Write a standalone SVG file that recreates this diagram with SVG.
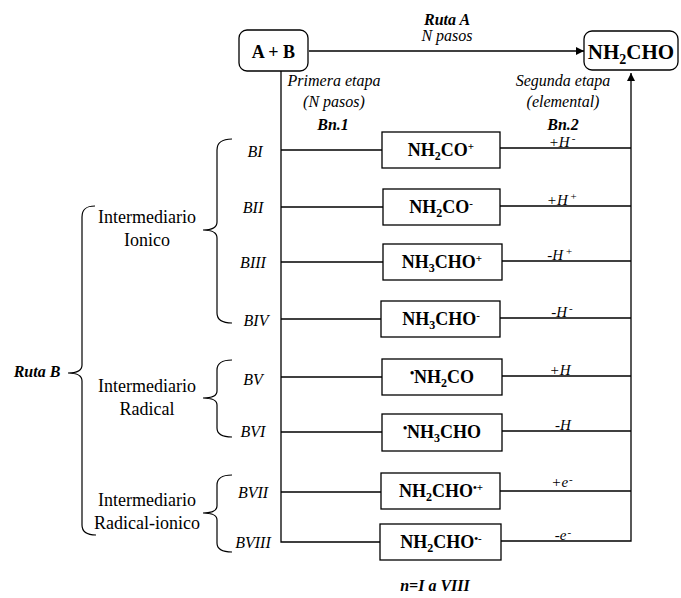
<svg xmlns="http://www.w3.org/2000/svg" width="681" height="598" viewBox="0 0 681 598">
<style>
text{font-family:"Liberation Serif","Times New Roman","DejaVu Serif",serif;fill:#000}
.it{font-style:italic}
.b{font-weight:bold}
.s16{font-size:16px}
.s15{font-size:15px}
.s18{font-size:18px}
.box{fill:#fff;stroke:#000;stroke-width:1.3}
.ln{fill:none;stroke:#000;stroke-width:1.3}
.br{fill:none;stroke:#000;stroke-width:1.2}
</style>
<defs>
<marker id="ah" viewBox="0 0 10 10" refX="10" refY="5" markerWidth="8" markerHeight="8" markerUnits="userSpaceOnUse" orient="auto">
<path d="M0,0 L10,5 L0,10 z" fill="#000"/>
</marker>
</defs>

<g id="connectors">
<line class="ln" x1="309" y1="51" x2="584" y2="51" marker-end="url(#ah)"/>
<polyline class="ln" points="281,71 281,542 380,542"/>
<polyline class="ln" points="501,541 631,541 631,73" marker-end="url(#ah)"/>
<line class="ln" x1="281" y1="150" x2="382" y2="150"/>
<line class="ln" x1="500" y1="148" x2="631" y2="148"/>
<line class="ln" x1="281" y1="207" x2="383" y2="207"/>
<line class="ln" x1="500" y1="206" x2="631" y2="206"/>
<line class="ln" x1="281" y1="262" x2="383" y2="262"/>
<line class="ln" x1="502" y1="261" x2="631" y2="261"/>
<line class="ln" x1="281" y1="319" x2="381" y2="319"/>
<line class="ln" x1="500" y1="318" x2="631" y2="318"/>
<line class="ln" x1="281" y1="377" x2="382" y2="377"/>
<line class="ln" x1="502" y1="376" x2="631" y2="376"/>
<line class="ln" x1="281" y1="432" x2="382" y2="432"/>
<line class="ln" x1="502" y1="431" x2="631" y2="431"/>
<line class="ln" x1="281" y1="492" x2="381" y2="492"/>
<line class="ln" x1="500" y1="491" x2="631" y2="491"/>
<text class="it b s16" x="447" y="25" text-anchor="middle">Ruta A</text>
<text class="it s16" x="447" y="41" text-anchor="middle">N pasos</text>
<text class="it s16" x="334" y="86" text-anchor="middle">Primera etapa</text>
<text class="it s16" x="334" y="107" text-anchor="middle">(N pasos)</text>
<text class="it b s16" x="333" y="130" text-anchor="middle">Bn.1</text>
<text class="it s16" x="563" y="86" text-anchor="middle">Segunda etapa</text>
<text class="it s16" x="563" y="107" text-anchor="middle">(elemental)</text>
<text class="it b s16" x="563" y="130" text-anchor="middle">Bn.2</text>
<text class="it s15" x="562" y="147" text-anchor="middle">+H<tspan font-size="11" dx="2" dy="-5">-</tspan></text>
<text class="it s15" x="562" y="205" text-anchor="middle">+H<tspan font-size="11" dx="2" dy="-5">+</tspan></text>
<text class="it s15" x="560" y="260" text-anchor="middle">-H<tspan font-size="11" dx="2" dy="-5">+</tspan></text>
<text class="it s15" x="562" y="317" text-anchor="middle">-H<tspan font-size="11" dx="2" dy="-5">-</tspan></text>
<text class="it s15" x="560" y="375" text-anchor="middle">+H</text>
<text class="it s15" x="563" y="430" text-anchor="middle">-H</text>
<text class="it s15" x="562" y="487" text-anchor="middle">+e<tspan font-size="11" dx="1" dy="-4">-</tspan></text>
<text class="it s15" x="563" y="540" text-anchor="middle">-e<tspan font-size="11" dx="1" dy="-4">-</tspan></text>
</g>

<g id="nodeAB">
<rect class="box" x="239" y="30" width="69" height="41" rx="8"/>
<text class="b s18" x="273.5" y="58" text-anchor="middle">A + B</text>
</g>
<g id="nodeNH2CHO">
<rect class="box" x="584" y="31" width="94" height="39" rx="8"/>
<text class="b" font-size="21" x="631" y="59" text-anchor="middle">NH<tspan font-size="14" dy="5">2</tspan><tspan dy="-5">CHO</tspan></text>
</g>

<g id="nodeBI">
<text class="it s16" x="255" y="157" text-anchor="middle">BI</text>
<rect class="box" x="382" y="132" width="118" height="36"/>
<text class="b s18" x="441" y="156" text-anchor="middle">NH<tspan font-size="12" dy="4">2</tspan><tspan dy="-4">CO</tspan><tspan font-size="11" dy="-6">+</tspan></text>
</g>
<g id="nodeBII">
<text class="it s16" x="253" y="213" text-anchor="middle">BII</text>
<rect class="box" x="383" y="189" width="117" height="36"/>
<text class="b s18" x="441" y="213" text-anchor="middle">NH<tspan font-size="12" dy="4">2</tspan><tspan dy="-4">CO</tspan><tspan font-size="11" dy="-6">-</tspan></text>
</g>
<g id="nodeBIII">
<text class="it s16" x="253" y="268" text-anchor="middle">BIII</text>
<rect class="box" x="383" y="244" width="119" height="36"/>
<text class="b s18" x="442" y="268" text-anchor="middle">NH<tspan font-size="12" dy="4">3</tspan><tspan dy="-4">CHO</tspan><tspan font-size="11" dy="-6">+</tspan></text>
</g>
<g id="nodeBIV">
<text class="it s16" x="256" y="326" text-anchor="middle">BIV</text>
<rect class="box" x="381" y="301" width="119" height="36"/>
<text class="b s18" x="441" y="325" text-anchor="middle">NH<tspan font-size="12" dy="4">3</tspan><tspan dy="-4">CHO</tspan><tspan font-size="11" dy="-6">-</tspan></text>
</g>
<g id="nodeBV">
<text class="it s16" x="253" y="385" text-anchor="middle">BV</text>
<rect class="box" x="382" y="359" width="120" height="36"/>
<text class="b s18" x="442" y="383" text-anchor="middle"><tspan font-size="12" dy="-6">•</tspan><tspan dy="6">NH</tspan><tspan font-size="12" dy="4">2</tspan><tspan dy="-4">CO</tspan></text>
</g>
<g id="nodeBVI">
<text class="it s16" x="253" y="437" text-anchor="middle">BVI</text>
<rect class="box" x="382" y="414" width="120" height="37"/>
<text class="b s18" x="442" y="438" text-anchor="middle"><tspan font-size="12" dy="-6">•</tspan><tspan dy="6">NH</tspan><tspan font-size="12" dy="4">3</tspan><tspan dy="-4">CHO</tspan></text>
</g>
<g id="nodeBVII">
<text class="it s16" x="253" y="498" text-anchor="middle">BVII</text>
<rect class="box" x="381" y="473" width="119" height="36"/>
<text class="b s18" x="441" y="497" text-anchor="middle">NH<tspan font-size="12" dy="4">2</tspan><tspan dy="-4">CHO</tspan><tspan font-size="11" dy="-6">•+</tspan></text>
</g>
<g id="nodeBVIII">
<text class="it s16" x="253" y="548" text-anchor="middle">BVIII</text>
<rect class="box" x="380" y="524" width="121" height="36"/>
<text class="b s18" x="441" y="548" text-anchor="middle">NH<tspan font-size="12" dy="4">2</tspan><tspan dy="-4">CHO</tspan><tspan font-size="11" dy="-6">•-</tspan></text>
</g>

<g id="groupIonico">
<path class="br" d="M232,139 C222,139 217,142 217,150 L217,222 C217,228 212,230 203,230 C212,230 217,232 217,238 L217,313 C217,320 222,323 232,323"/>
<text class="s18" x="147" y="223" text-anchor="middle">Intermediario</text>
<text class="s18" x="147" y="246" text-anchor="middle">Ionico</text>
</g>
<g id="groupRadical">
<path class="br" d="M232,360 C222,360 217,363 217,370 L217,391 C217,396 212,398 203,398 C212,398 217,400 217,405 L217,428 C217,434 222,437 232,437"/>
<text class="s18" x="147" y="392" text-anchor="middle">Intermediario</text>
<text class="s18" x="147" y="415" text-anchor="middle">Radical</text>
</g>
<g id="groupRadicalIonico">
<path class="br" d="M232,475 C222,475 217,478 217,485 L217,506 C217,511 212,513 203,513 C212,513 217,515 217,520 L217,543 C217,549 222,552 232,552"/>
<text class="s18" x="147" y="506" text-anchor="middle">Intermediario</text>
<text class="s18" x="147" y="529" text-anchor="middle">Radical-ionico</text>
</g>
<g id="rutaB">
<path class="br" d="M95,206 C86,206 82,209 82,217 L82,365 C82,370 77,373 68,373 C77,373 82,376 82,381 L82,525 C82,532 87,535 96,535"/>
<text class="it b s16" x="37" y="377" text-anchor="middle">Ruta B</text>
</g>
<g id="footer">
<text class="it b s16" x="435" y="591" text-anchor="middle">n=I a VIII</text>
</g>
</svg>
